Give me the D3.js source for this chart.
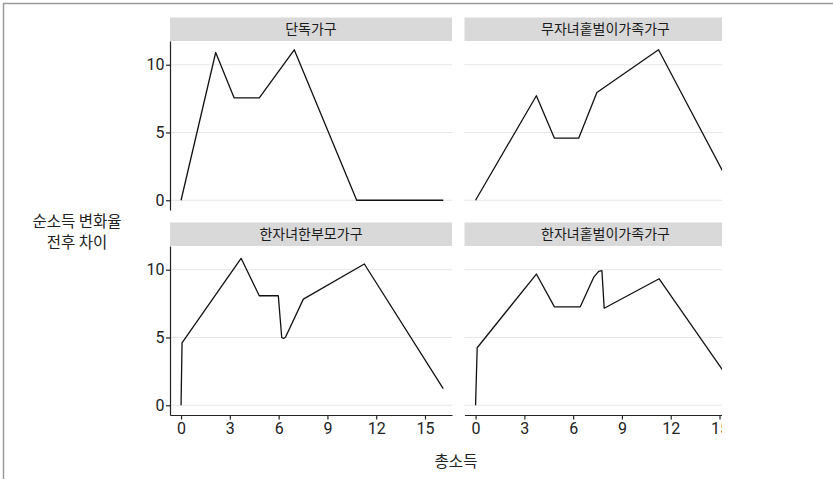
<!DOCTYPE html>
<html>
<head>
<meta charset="utf-8">
<script src="https://cdn.jsdelivr.net/npm/d3@7"></script>
<style>
  html, body { margin: 0; padding: 0; background: #fff; }
  svg { display: block; }
  text { font-family: Roboto, "Noto Sans CJK KR", sans-serif; }
</style>
</head>
<body>
<svg id="chart" width="833" height="479"></svg>
<script>
// Household types, one facet each
const households = ["단독가구", "무자녀홑벌이가족가구", "한자녀한부모가구", "한자녀홑벌이가족가구"];

// Total income (x) and change in net-income rate (y) for each household type
const singleIncome  = [0, 2.13, 3.26, 4.81, 6.96, 10.8, 16.12];
const singleChange  = [0, 10.9, 7.56, 7.56, 11.1, 0, 0];

const couple1Income = [0, 3.74, 4.85, 6.34, 7.46, 11.25, 16.12];
const couple1Change = [0, 7.71, 4.58, 4.58, 7.95, 11.1, 0.05];

const singleParentIncome = [0, 0.06, 3.69, 4.81, 5.98, 6.19, 6.3, 6.42, 7.52, 11.27, 16.12];
const singleParentChange = [0, 4.6, 10.84, 8.08, 8.08, 5.0, 4.92, 5.02, 7.83, 10.42, 1.23];

const oneChildIncome = [0, 0.1, 3.74, 4.85, 6.44, 7.26, 7.57, 7.77, 7.91, 11.29, 16.12];
const oneChildChange = [0, 4.24, 9.68, 7.26, 7.26, 9.43, 9.88, 9.93, 7.16, 9.33, 1.0];

const xTicks = [0, 3, 6, 9, 12, 15];
const yTicks = [0, 5, 10];

const xTitle = "총소득";
const yTitleLines = ["순소득 변화율", "전후 차이"];

const seriesX = [singleIncome, couple1Income, singleParentIncome, oneChildIncome];
const seriesY = [singleChange, couple1Change, singleParentChange, oneChildChange];

const svg = d3.select("#chart");

// Page frame
svg.append("line").attr("x1", 3).attr("x2", 833).attr("y1", 3.5).attr("y2", 3.5)
  .attr("stroke", "#9a9a9a").attr("stroke-width", 1.5);
svg.append("line").attr("x1", 3.5).attr("x2", 3.5).attr("y1", 3).attr("y2", 479)
  .attr("stroke", "#9a9a9a").attr("stroke-width", 1.5);

svg.append("defs").append("clipPath").attr("id", "viewClip")
  .append("rect").attr("x", 0).attr("y", 0).attr("width", 722).attr("height", 479);

const root = svg.append("g").attr("clip-path", "url(#viewClip)");

// Facet geometry
const panelW = 282, panelH = 169;
const colX = [170, 464.5];
const rowY = [41, 246];
const stripH = 23.5;

const x = d3.scaleLinear().domain([-0.68, 16.66]).range([0, panelW]);
const y = d3.scaleLinear().domain([-0.72, 11.75]).range([panelH, 0]);

const line = d3.line().x(d => x(d[0])).y(d => y(d[1]));

households.forEach((name, i) => {
  const col = i % 2, row = Math.floor(i / 2);
  const g = root.append("g").attr("transform", `translate(${colX[col]},${rowY[row]})`);

  // strip
  g.append("rect").attr("x", 0).attr("y", -stripH).attr("width", panelW).attr("height", stripH)
    .attr("fill", "#d9d9d9");
  g.append("text").attr("x", panelW / 2).attr("y", -stripH / 2).attr("dy", "0.36em")
    .attr("text-anchor", "middle").attr("font-size", 14).attr("fill", "#1a1a1a")
    .style("font-family", "'Noto Sans CJK KR', sans-serif")
    .text(name);

  // horizontal grid
  g.selectAll("line.grid").data(yTicks).join("line").attr("class", "grid")
    .attr("x1", 0).attr("x2", panelW)
    .attr("y1", d => y(d)).attr("y2", d => y(d))
    .attr("stroke", "#e6e6e6").attr("stroke-width", 1.1);

  // y axis on left column
  if (col === 0) {
    const ya = g.append("g").call(d3.axisLeft(y).tickValues(yTicks).tickSize(4).tickPadding(1.5).tickSizeOuter(0));
    ya.select(".domain").attr("stroke", "#222").attr("stroke-width", 1.2);
    ya.selectAll(".tick line").attr("stroke", "#222").attr("stroke-width", 1.2);
    ya.selectAll(".tick text").attr("font-size", 16).attr("fill", "#222")
      .style("font-family", "Roboto, sans-serif");
  }
  // x axis on bottom row
  if (row === 1) {
    const xa = g.append("g").attr("transform", `translate(0,${panelH})`)
      .call(d3.axisBottom(x).tickValues(xTicks).tickSize(4.5).tickPadding(3).tickSizeOuter(0));
    xa.select(".domain").attr("stroke", "#222").attr("stroke-width", 1.2);
    xa.selectAll(".tick line").attr("stroke", "#222").attr("stroke-width", 1.2);
    xa.selectAll(".tick text").attr("font-size", 16).attr("fill", "#222")
      .style("font-family", "Roboto, sans-serif");
  }

  const pts = seriesX[i].map((v, k) => [v, seriesY[i][k]]);
  g.append("path").attr("d", line(pts))
    .attr("fill", "none").attr("stroke", "#111").attr("stroke-width", 1.3)
    .attr("stroke-linejoin", "round");
});

// Axis titles
root.append("text").attr("x", 456).attr("y", 467).attr("text-anchor", "middle")
  .attr("font-size", 15.5).attr("fill", "#222")
  .style("font-family", "'Noto Sans CJK KR', sans-serif")
  .text(xTitle);

yTitleLines.forEach((t, k) => {
  root.append("text").attr("x", 77).attr("y", 221.5 + k * 21).attr("dy", "0.36em")
    .attr("text-anchor", "middle").attr("font-size", 15.5).attr("fill", "#222")
    .style("font-family", "'Noto Sans CJK KR', sans-serif")
    .text(t);
});
</script>
</body>
</html>
